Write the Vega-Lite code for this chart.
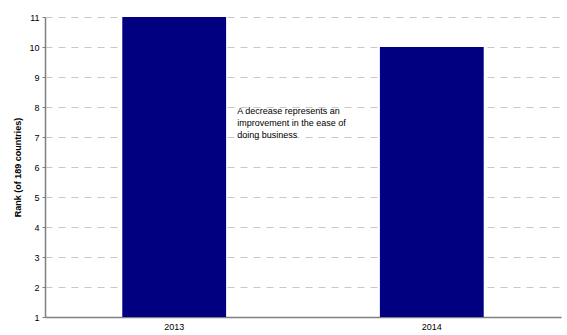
{
  "$schema": "https://vega.github.io/schema/vega-lite/v6.json",
  "autosize": {"type": "none"},
  "padding": {"left": 45, "top": 17, "right": 6, "bottom": 18},
  "width": 516,
  "height": 300,
  "background": "white",
  "config": {
    "view": {"stroke": null},
    "font": "Liberation Sans",
    "axis": {"labelFont": "Liberation Sans", "titleFont": "Liberation Sans", "labelColor": "#000", "titleColor": "#000"}
  },
  "data": {"values": [
    {"year": "2013", "rank": 11},
    {"year": "2014", "rank": 10}
  ]},
  "layer": [
    {
      "mark": {"type": "bar", "color": "#000080"},
      "encoding": {
        "x": {
          "field": "year", "type": "nominal",
          "scale": {"paddingInner": 0.597, "paddingOuter": 0.3},
          "axis": {"title": null, "labelAngle": 0, "labelFontSize": 9, "labelPadding": 5, "ticks": false, "domainColor": "#808080", "domainWidth": 1.5}
        },
        "y": {
          "field": "rank", "type": "quantitative",
          "scale": {"domain": [1, 11], "zero": false, "nice": false},
          "axis": {
            "title": "Rank (of 189 countries)", "titleFontSize": 9, "titleFontWeight": "bold", "titlePadding": 6,
            "values": [1,2,3,4,5,6,7,8,9,10,11], "tickCount": 20, "format": "d", "labelOverlap": false, "labelFontSize": 9, "labelPadding": 3, "tickSize": 3,
            "tickColor": "#808080", "domainColor": "#808080", "domainWidth": 1.5,
            "grid": true, "gridColor": "#c8c8c8", "gridDash": [7, 6], "gridWidth": 1
          }
        },
        "y2": {"datum": 1}
      }
    },
    {
      "data": {"values": [{"year": "2013", "rank": 8.0, "label": "A decrease represents an|improvement in the ease of|doing business"}]},
      "mark": {"type": "text", "align": "left", "baseline": "top", "fontSize": 9, "lineHeight": 12, "lineBreak": "|", "dx": 63, "dy": 0, "color": "#000"},
      "encoding": {
        "x": {
          "field": "year", "type": "nominal",
          "axis": {"title": null, "labelAngle": 0, "labelFontSize": 9, "labelPadding": 5, "ticks": false, "domainColor": "#808080", "domainWidth": 1.5}
        },
        "y": {
          "field": "rank", "type": "quantitative",
          "axis": {
            "title": "Rank (of 189 countries)", "titleFontSize": 9, "titleFontWeight": "bold", "titlePadding": 6,
            "values": [1,2,3,4,5,6,7,8,9,10,11], "tickCount": 20, "format": "d", "labelOverlap": false, "labelFontSize": 9, "labelPadding": 3, "tickSize": 3,
            "tickColor": "#808080", "domainColor": "#808080", "domainWidth": 1.5,
            "grid": true, "gridColor": "#c8c8c8", "gridDash": [7, 6], "gridWidth": 1
          }
        },
        "text": {"field": "label"}
      }
    }
  ]
}
